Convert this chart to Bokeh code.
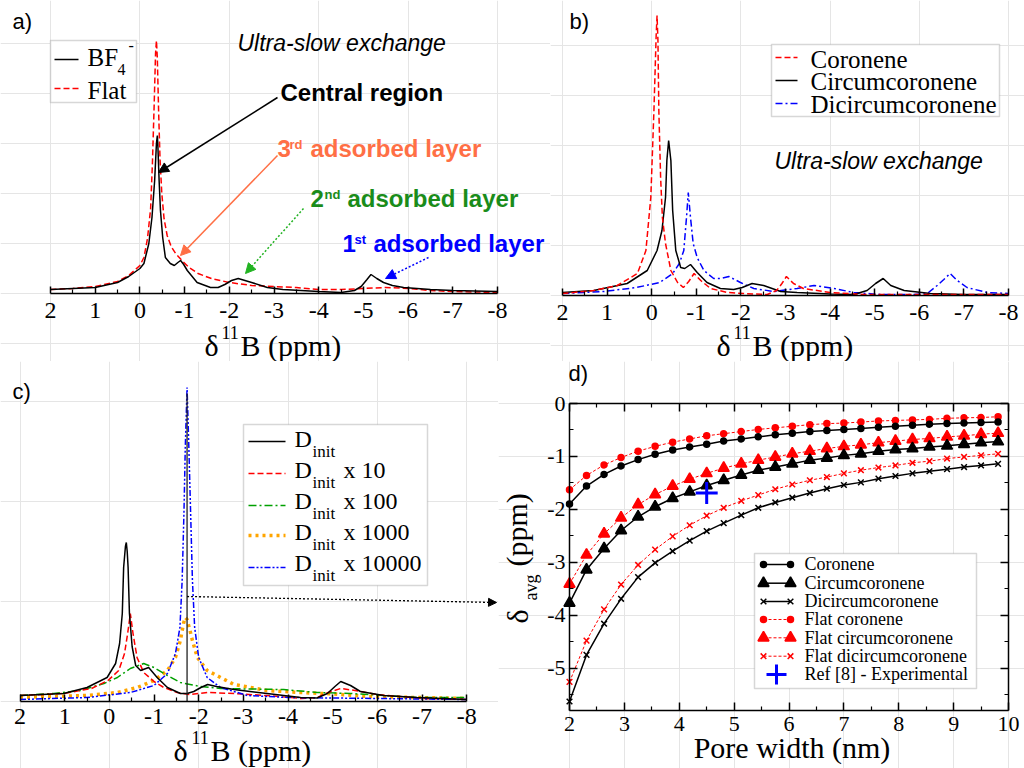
import math
from bokeh.plotting import figure
from bokeh.models import (Range1d, FixedTicker, Label, Arrow, NormalHead,
                          BoxAnnotation, LinearAxis, CustomJSTickFormatter)
from bokeh.layouts import row, column
from bokeh.embed import file_html
from bokeh.resources import INLINE

SERIF = "Liberation Serif"
SANS = "Liberation Sans"
RED, BLUE, BLACK = "#ff0000", "#0000ff", "#000000"
ORANGE, GREEN_C = "#ffa500", "#00a000"
CORAL, GREEN_T, GREEN_A = "#ff6f45", "#1a8c1a", "#22b322"

ROW_SPLIT = 361   # page y where the lower row of panels begins
COL_SPLIT = 498   # page x where panel d begins

# ---------------- data ----------------
ppm_ticks = [2, 1, 0, -1, -2, -3, -4, -5, -6, -7, -8]
ppm_minor = [1.5, 0.5, -0.5, -1.5, -2.5, -3.5, -4.5, -5.5, -6.5, -7.5]

# panel a (intensity, a.u.)
a_bf4_ppm = [2.0, 1.5, 1.0, 0.5, 0.25, 0.0, -0.09, -0.2, -0.27, -0.33, -0.37, -0.39, -0.40, -0.43,
             -0.46, -0.51, -0.57, -0.68, -0.77, -0.85, -0.91, -0.98, -1.06, -1.28, -1.58, -1.75,
             -1.9, -2.05, -2.2, -2.35, -2.5, -2.85, -3.2, -3.6, -4.0, -4.5, -4.8, -4.95, -5.08,
             -5.17, -5.3, -5.45, -5.65, -5.9, -6.5, -7.0, -8.0]
a_bf4_int = [4, 5, 6, 11, 17, 25, 30, 50, 76, 113, 150, 158, 150, 113, 83, 56, 36, 30, 28, 31, 33,
             29, 23, 11, 6, 6, 9, 13, 15, 13, 11, 6, 4, 3, 2, 1, 3, 7, 14, 19, 15, 11, 8, 6, 4, 3, 2]
a_flat_ppm = [2.0, 1.5, 1.0, 0.5, 0.25, 0.0, -0.09, -0.17, -0.24, -0.28, -0.32, -0.35, -0.37, -0.39,
              -0.42, -0.45, -0.49, -0.54, -0.61, -0.7, -0.8, -0.94, -1.1, -1.3, -1.6, -2.0, -2.5,
              -3.0, -3.5, -4.0, -4.5, -5.0, -5.5, -6.0, -6.5, -7.0, -7.5, -8.0]
a_flat_int = [4, 5, 7, 12, 18, 28, 36, 55, 85, 130, 190, 240, 253, 235, 180, 135, 100, 75, 58, 47,
              40, 33, 26, 20, 15, 11, 8, 7, 6, 4, 4, 5, 6, 5, 3, 2, 1.5, 1]

# panel b
b_cor_ppm = [2.0, 1.3, 0.77, 0.32, 0.13, 0.02, -0.05, -0.1, -0.12, -0.14, -0.16, -0.2, -0.24, -0.31,
             -0.43, -0.58, -0.71, -0.83, -0.95, -1.1, -1.32, -1.7, -2.06, -2.59, -2.8, -2.92,
             -3.02, -3.18, -3.4, -4.0, -4.75, -5.5, -6.25, -7.0, -8.0]
b_cor_int = [2, 5, 10, 22, 45, 98, 185, 260, 280, 255, 185, 118, 78, 52, 25, 13, 8, 14, 22, 15, 7,
             3, 2, 1, 5, 12, 19, 12, 7, 3, 1, 1, 1, 1, 1]
b_cir_ppm = [2.0, 1.3, 0.55, 0.1, -0.12, -0.23, -0.31, -0.34, -0.38, -0.43, -0.47, -0.54, -0.65,
             -0.74, -0.87, -1.02, -1.24, -1.54, -1.84, -2.03, -2.25, -2.51, -2.89, -3.26, -4.0,
             -4.53, -4.83, -5.02, -5.19, -5.36, -5.66, -6.25, -7.0, -8.0]
b_cir_int = [3, 5, 12, 25, 45, 65, 98, 135, 155, 135, 85, 45, 28, 27, 31, 23, 13, 7, 6, 8, 12, 10,
             4, 3, 1.5, 1, 5, 12, 17, 10, 5, 2, 1, 1]
b_dic_ppm = [2.0, 1.08, 0.34, -0.18, -0.47, -0.62, -0.72, -0.78, -0.82, -0.87, -0.93, -1.02, -1.17,
             -1.39, -1.55, -1.73, -1.99, -2.29, -2.74, -3.26, -3.64, -4.09, -4.53, -5.13, -5.88,
             -6.18, -6.4, -6.55, -6.69, -6.85, -7.07, -7.52, -8.0]
b_dic_int = [2, 4, 8, 13, 22, 32, 45, 78, 103, 78, 52, 38, 25, 17, 17, 19, 13, 7, 4, 7, 10, 7, 3,
             1, 1, 2, 10, 16, 22, 15, 8, 3, 2]

# panel c
c_d1_ppm = [2.0, 1.02, 0.5, 0.05, -0.14, -0.23, -0.29, -0.32, -0.36, -0.38, -0.40, -0.42, -0.45,
            -0.51, -0.59, -0.70, -0.88, -1.07, -1.3, -1.59, -1.74, -1.89, -2.05, -2.2, -2.4, -2.79,
            -3.53, -4.28, -4.65, -4.88, -5.05, -5.18, -5.4, -5.62, -6.14, -6.89, -8.0]
c_d1_int = [6, 8, 14, 24, 38, 58, 88, 134, 155, 159, 150, 134, 88, 55, 36, 31, 34, 24, 14, 8, 8, 10,
            14, 17, 15, 12, 8, 4, 3.5, 8, 15, 20, 16, 10, 6, 4, 2]
c_d10_ppm = [2.0, 1.02, 0.4, 0.03, -0.21, -0.34, -0.41, -0.47, -0.53, -0.62, -0.77, -1.0, -1.22,
             -1.52, -1.8, -2.2, -2.8, -3.5, -4.3, -4.65, -4.9, -5.18, -5.5, -6.0, -6.5, -7.0, -8.0]
c_d10_int = [6, 8, 13, 21, 31, 48, 68, 88, 68, 44, 29, 20, 14, 9, 7, 9, 8, 6, 3, 4, 9, 13, 11, 7,
             5, 3, 2]
c_d100_ppm = [2.0, 1.24, 0.65, 0.12, -0.18, -0.47, -0.77, -1.0, -1.3, -1.59, -2.04, -2.49, -3.16,
              -3.9, -4.65, -5.4, -6.89, -8.0]
c_d100_int = [6, 8, 11, 18, 24, 33, 38, 34, 26, 19, 15, 13, 12.5, 12, 9, 8, 4, 4]
c_d1000_ppm = [2.0, 0.5, -0.18, -0.63, -1.0, -1.3, -1.48, -1.59, -1.66, -1.70, -1.74, -1.80, -1.86,
               -1.97, -2.19, -2.49, -2.79, -3.53, -4.28, -5.03, -5.77, -8.0]
c_d1000_int = [4, 6, 9, 14, 21, 31, 44, 61, 78, 84, 82, 72, 61, 44, 31, 24, 17, 11, 9, 7.5, 5, 3]
c_d10000_ppm = [2.0, 0.5, -0.47, -1.0, -1.3, -1.48, -1.58, -1.63, -1.67, -1.70, -1.74, -1.78,
                -1.82, -1.86, -1.91, -2.0, -2.19, -2.49, -3.09, -4.0, -6.0, -8.0]
c_d10000_int = [2, 4, 9, 16, 28, 48, 74, 121, 188, 254, 314, 254, 188, 121, 74, 44, 24, 14, 6, 4,
                3, 2]
c_avg_ppm = [-1.74]
c_avg_top = [308]
c_arrow_height = 105

# panel d
d_width = [2.0, 2.31, 2.63, 2.94, 3.25, 3.56, 3.88, 4.19, 4.5, 4.81, 5.13, 5.44, 5.75, 6.06, 6.38,
           6.69, 7.0, 7.31, 7.63, 7.94, 8.25, 8.56, 8.88, 9.19, 9.5, 9.81]
d_cor = [-1.90, -1.56, -1.34, -1.18, -1.06, -0.96, -0.88, -0.82, -0.77, -0.71, -0.67, -0.63, -0.59,
         -0.56, -0.53, -0.51, -0.49, -0.47, -0.45, -0.43, -0.41, -0.39, -0.38, -0.37, -0.36, -0.35]
d_flat_cor = [-1.63, -1.36, -1.16, -1.02, -0.90, -0.81, -0.73, -0.67, -0.61, -0.57, -0.53, -0.49,
              -0.46, -0.43, -0.40, -0.38, -0.37, -0.35, -0.33, -0.32, -0.31, -0.30, -0.28, -0.27,
              -0.265, -0.25]
d_cir = [-3.77, -3.14, -2.74, -2.40, -2.14, -1.95, -1.79, -1.67, -1.55, -1.45, -1.35, -1.26, -1.20,
         -1.14, -1.07, -1.03, -0.98, -0.95, -0.90, -0.87, -0.85, -0.82, -0.80, -0.77, -0.74, -0.72]
d_flat_cir = [-3.41, -2.86, -2.46, -2.16, -1.91, -1.72, -1.56, -1.43, -1.32, -1.22, -1.14, -1.07,
              -1.01, -0.95, -0.90, -0.85, -0.81, -0.78, -0.74, -0.71, -0.68, -0.66, -0.63, -0.61,
              -0.58, -0.56]
d_dic = [-5.63, -4.75, -4.16, -3.69, -3.28, -3.01, -2.79, -2.59, -2.41, -2.26, -2.11, -1.97, -1.87,
         -1.78, -1.69, -1.61, -1.54, -1.49, -1.42, -1.37, -1.32, -1.28, -1.24, -1.20, -1.17, -1.14]
d_flat_dic = [-5.26, -4.48, -3.89, -3.42, -3.05, -2.76, -2.51, -2.30, -2.12, -1.97, -1.84, -1.73,
              -1.62, -1.53, -1.45, -1.39, -1.32, -1.26, -1.21, -1.17, -1.12, -1.09, -1.04, -1.01,
              -0.98, -0.95]
d_exp_x = [4.5]
d_exp_y = [-1.69]
d_xticks = [2, 3, 4, 5, 6, 7, 8, 9, 10]
d_xminor = [2.5, 3.5, 4.5, 5.5, 6.5, 7.5, 8.5, 9.5]
d_yticks = [0, -1, -2, -3, -4, -5]
d_yminor = [-0.5, -1.5, -2.5, -3.5, -4.5, -5.5]
d_xlim = (2, 10)
d_ylim = (-5.8, 0)


# ---------------- helpers ----------------
def text(p, X, Y, rx, rbase, s, size, font=SERIF, style="normal", color=BLACK, align="left"):
    """rx, rbase: anchor x and baseline y in page pixels."""
    p.add_layout(Label(x=X(rx), y=Y(rbase - 0.34 * size), text=s, text_font=font,
                       text_font_size=f"{size}px", text_font_style=style, text_color=color,
                       text_align=align, text_baseline="middle"))


def vtext(p, X, Y, rbase_x, rstart_y, s, size, font=SERIF):
    """Vertical text reading bottom-to-top; rbase_x is the baseline x in page pixels."""
    p.add_layout(Label(x=X(rbase_x - 0.34 * size), y=Y(rstart_y), text=s, text_font=font,
                       text_font_size=f"{size}px", text_color=BLACK, text_align="left",
                       text_baseline="middle", angle=math.pi / 2))


def arrow(p, x0, y0, x1, y1, color, dash="solid", width=1.5, head=10):
    p.add_layout(Arrow(x_start=x0, y_start=y0, x_end=x1, y_end=y1, line_color=color,
                       line_width=width, line_dash=dash,
                       end=NormalHead(size=head, fill_color=color, line_color=color)))


def box(p, l, r, t, b):
    p.add_layout(BoxAnnotation(left=l, right=r, top=t, bottom=b, fill_color="white",
                               fill_alpha=1.0, line_color="#7a7a7a", line_width=1.5,
                               level="underlay"))


def quiet_axis(a, ticks, minor, bounds, loc, tick_in=7, minor_in=4):
    a.ticker = FixedTicker(ticks=ticks, minor_ticks=minor)
    a.bounds = bounds
    a.fixed_location = loc
    a.axis_line_color = BLACK
    a.axis_line_width = 1.5
    a.major_tick_line_color = BLACK
    a.minor_tick_line_color = BLACK
    a.major_tick_line_width = 1.5
    a.minor_tick_line_width = 1.2
    a.major_tick_in = tick_in
    a.major_tick_out = 0
    a.minor_tick_in = minor_in
    a.minor_tick_out = 0
    a.major_label_text_font_size = "0px"
    a.major_label_text_alpha = 0
    a.major_label_standoff = 0
    a.formatter = CustomJSTickFormatter(code="return '';")


def bare_fig(w, h, xr, yr):
    p = figure(width=w, height=h, x_range=Range1d(*xr), y_range=Range1d(*yr),
               output_backend="svg", toolbar_location=None,
               x_axis_location=None, y_axis_location=None,
               min_border_left=0, min_border_right=0, min_border_top=0, min_border_bottom=0)
    p.outline_line_color = None
    p.background_fill_color = "white"
    p.border_fill_color = "white"
    return p


def spectrum_fig(X, Y, x0, x1, y0, y1, tick_base):
    p = bare_fig(x1 - x0, y1 - y0, (X(x0), X(x1)), (Y(y1), Y(y0)))
    ax = LinearAxis()
    quiet_axis(ax, ppm_ticks, ppm_minor, (-8, 2), 0)
    p.add_layout(ax, "below")
    for t in ppm_ticks:
        p.add_layout(Label(x=t, y=Y(tick_base - 0.34 * 24), text=str(t), text_font=SERIF,
                           text_font_size="24px", text_color=BLACK, text_align="center",
                           text_baseline="middle"))
    return p


def delta_label(p, X, Y, x_delta, x_sup, x_b, base, sup_base):
    text(p, X, Y, x_delta, base, "δ", 30)
    text(p, X, Y, x_sup, sup_base, "11", 18)
    text(p, X, Y, x_b, base, "B (ppm)", 30)


# ---------------- panel a ----------------
def ax_(rx): return 2 - (rx - 50) / 44.7
def ay_(ry): return 293 - ry

pa = spectrum_fig(ax_, ay_, 0, 550, 0, ROW_SPLIT, 318)
pa.line(a_flat_ppm, a_flat_int, line_color=RED, line_width=1.5, line_dash="6 3")
pa.line(a_bf4_ppm, a_bf4_int, line_color=BLACK, line_width=1.5)

box(pa, ax_(50), ax_(136), ay_(40), ay_(102))
pa.line([ax_(54), ax_(78)], [ay_(59), ay_(59)], line_color=BLACK, line_width=1.5)
pa.line([ax_(54), ax_(78)], [ay_(88), ay_(88)], line_color=RED, line_width=1.5, line_dash="6 3")
text(pa, ax_, ay_, 87, 65, "BF", 25)
text(pa, ax_, ay_, 117, 74, "4", 16)
text(pa, ax_, ay_, 128, 50, "-", 16)
text(pa, ax_, ay_, 87, 98, "Flat", 25)

text(pa, ax_, ay_, 12, 28, "a)", 22, font=SANS)
text(pa, ax_, ay_, 237, 50.5, "Ultra-slow exchange", 23, font=SANS, style="italic")
text(pa, ax_, ay_, 280, 100, "Central region", 24, font=SANS, style="bold")
text(pa, ax_, ay_, 277, 156, "3", 24, font=SANS, style="bold", color=CORAL)
text(pa, ax_, ay_, 289, 148, "rd", 13, font=SANS, style="bold", color=CORAL)
text(pa, ax_, ay_, 310, 156, "adsorbed layer", 24, font=SANS, style="bold", color=CORAL)
text(pa, ax_, ay_, 310, 206.5, "2", 24, font=SANS, style="bold", color=GREEN_T)
text(pa, ax_, ay_, 324, 198.5, "nd", 13, font=SANS, style="bold", color=GREEN_T)
text(pa, ax_, ay_, 347, 206.5, "adsorbed layer", 24, font=SANS, style="bold", color=GREEN_T)
text(pa, ax_, ay_, 342, 251.5, "1", 24, font=SANS, style="bold", color=BLUE)
text(pa, ax_, ay_, 354, 243.5, "st", 13, font=SANS, style="bold", color=BLUE)
text(pa, ax_, ay_, 373, 251.5, "adsorbed layer", 24, font=SANS, style="bold", color=BLUE)

arrow(pa, ax_(277), ay_(97), ax_(158), ay_(172), BLACK)
arrow(pa, ax_(277), ay_(155), ax_(180), ay_(255), CORAL)
arrow(pa, ax_(303), ay_(208), ax_(245), ay_(273), GREEN_A, dash="2 2")
arrow(pa, ax_(428), ay_(257), ax_(385), ay_(278), BLUE, dash="2 2")

delta_label(pa, ax_, ay_, 204, 221, 240, 355, 338)

# ---------------- panel b ----------------
def bx_(rx): return 2 - (rx - 562) / 44.6
def by_(ry): return 295 - ry

pb = spectrum_fig(bx_, by_, 550, 1024, 0, ROW_SPLIT, 320)
pb.line(b_dic_ppm, b_dic_int, line_color=BLUE, line_width=1.5, line_dash="7 3 2 3")
pb.line(b_cir_ppm, b_cir_int, line_color=BLACK, line_width=1.5)
pb.line(b_cor_ppm, b_cor_int, line_color=RED, line_width=1.5, line_dash="6 3")

box(pb, bx_(771), bx_(999), by_(44), by_(116))
pb.line([bx_(775), bx_(797)], [by_(57), by_(57)], line_color=RED, line_width=1.5, line_dash="6 3")
pb.line([bx_(775), bx_(797)], [by_(80), by_(80)], line_color=BLACK, line_width=1.5)
pb.line([bx_(775), bx_(797)], [by_(103), by_(103)], line_color=BLUE, line_width=1.5,
        line_dash="7 3 2 3")
text(pb, bx_, by_, 810, 67, "Coronene", 25)
text(pb, bx_, by_, 810, 89.5, "Circumcoronene", 25)
text(pb, bx_, by_, 810, 112, "Dicircumcoronene", 25)

text(pb, bx_, by_, 569, 28, "b)", 22, font=SANS)
text(pb, bx_, by_, 774, 168, "Ultra-slow exchange", 23, font=SANS, style="italic")
delta_label(pb, bx_, by_, 716, 733, 752, 355, 338)

# ---------------- panel c ----------------
def cx_(rx): return 2 - (rx - 19.5) / 44.67
def cy_(ry): return 701 - ry

pc = spectrum_fig(cx_, cy_, 0, COL_SPLIT, ROW_SPLIT, 768, 724)
pc.line(c_d1000_ppm, c_d1000_int, line_color=ORANGE, line_width=3.5, line_dash="3 4")
pc.line(c_d100_ppm, c_d100_int, line_color=GREEN_C, line_width=1.5, line_dash="8 3 2 3")
pc.line(c_d10_ppm, c_d10_int, line_color=RED, line_width=1.5, line_dash="6 3")
pc.line(c_d10000_ppm, c_d10000_int, line_color=BLUE, line_width=1.5, line_dash="6 2 2 2 2 2")
pc.line(c_d1_ppm, c_d1_int, line_color=BLACK, line_width=1.5)
pc.segment(x0=c_avg_ppm, y0=[0], x1=c_avg_ppm, y1=c_avg_top, line_color="#222222", line_width=1.3)
arrow(pc, c_avg_ppm[0], c_arrow_height, cx_(496), cy_(602), BLACK, dash="2 2", width=1.3, head=8)

box(pc, cx_(243), cx_(427), cy_(424), cy_(585))
leg_c = [("solid", BLACK, 1.5, 441, 447, ""), ("6 3", RED, 1.5, 473, 478, "x 10"),
         ("8 3 2 3", GREEN_C, 1.5, 505, 509, "x 100"), ("3 4", ORANGE, 3.5, 535, 540, "x 1000"),
         ("6 2 2 2 2 2", BLUE, 1.5, 567, 571, "x 10000")]
for dash, col, lw, ly, tb, suffix in leg_c:
    pc.line([cx_(248), cx_(285)], [cy_(ly), cy_(ly)], line_color=col, line_width=lw, line_dash=dash)
    text(pc, cx_, cy_, 294, tb, "D", 24)
    text(pc, cx_, cy_, 312, tb + 10, "init", 17)
    if suffix:
        text(pc, cx_, cy_, 343, tb, suffix, 24)

text(pc, cx_, cy_, 12, 398, "c)", 22, font=SANS)
delta_label(pc, cx_, cy_, 173, 191, 210, 760, 743)

# ---------------- panel d ----------------
def dx_(rx): return 2 + (rx - 569) * 8 / 439
def dy_(ry): return -5.8 * (ry - 403) / 307

pd = bare_fig(1024 - COL_SPLIT, 768 - ROW_SPLIT, (dx_(COL_SPLIT), dx_(1024)), (dy_(768), dy_(ROW_SPLIT)))
ax_b = LinearAxis(); quiet_axis(ax_b, d_xticks, d_xminor, d_xlim, d_ylim[0], 8, 4)
ax_t = LinearAxis(); quiet_axis(ax_t, d_xticks, d_xminor, d_xlim, d_ylim[1], 8, 4)
ax_l = LinearAxis(); quiet_axis(ax_l, d_yticks, d_yminor, d_ylim, d_xlim[0], 8, 4)
ax_r = LinearAxis(); quiet_axis(ax_r, d_yticks, d_yminor, d_ylim, d_xlim[1], 8, 4)
pd.add_layout(ax_b, "below")
pd.add_layout(ax_t, "above")
pd.add_layout(ax_l, "left")
pd.add_layout(ax_r, "right")

series = [
    (d_flat_cor, RED, "circle", 6, "3 2", 1.0),
    (d_flat_cir, RED, "triangle", 11, "3 2", 1.0),
    (d_flat_dic, RED, "x", 8, "3 2", 1.0),
    (d_cor, BLACK, "circle", 6, "solid", 1.5),
    (d_cir, BLACK, "triangle", 11, "solid", 1.5),
    (d_dic, BLACK, "x", 8, "solid", 1.5),
]
for ys, col, mk, sz, dash, lw in series:
    pd.line(d_width, ys, line_color=col, line_width=lw, line_dash=dash)
    pd.scatter(d_width, ys, marker=mk, size=sz, fill_color=col, line_color=col, line_width=1.5)
pd.scatter(d_exp_x, d_exp_y, marker="cross", size=22, line_color=BLUE, line_width=3)

for t in d_xticks:
    pd.add_layout(Label(x=t, y=dy_(731 - 0.34 * 22), text=str(t), text_font=SERIF,
                        text_font_size="22px", text_color=BLACK, text_align="center",
                        text_baseline="middle"))
for t in d_yticks:
    pd.add_layout(Label(x=dx_(565), y=t, text=str(t), text_font=SERIF,
                        text_font_size="22px", text_color=BLACK, text_align="right",
                        text_baseline="middle"))

box(pd, dx_(754), dx_(976), dy_(553), dy_(688))
leg_d = [("Coronene", BLACK, "circle", 6, "solid", 1.5, 564),
         ("Circumcoronene", BLACK, "triangle", 11, "solid", 1.5, 582.7),
         ("Dicircumcoronene", BLACK, "x", 8, "solid", 1.5, 601),
         ("Flat coronene", RED, "circle", 6, "3 2", 1.0, 619),
         ("Flat circumcoronene", RED, "triangle", 11, "3 2", 1.0, 637.3),
         ("Flat dicircumcoronene", RED, "x", 8, "3 2", 1.0, 655.7)]
for lab, col, mk, sz, dash, lw, ly in leg_d:
    pd.line([dx_(763), dx_(790)], [dy_(ly), dy_(ly)], line_color=col, line_width=lw, line_dash=dash)
    pd.scatter([dx_(763), dx_(790)], [dy_(ly), dy_(ly)], marker=mk, size=sz, fill_color=col,
               line_color=col, line_width=1.5)
    text(pd, dx_, dy_, 804, ly + 6, lab, 18)
pd.scatter([dx_(776)], [dy_(674)], marker="cross", size=20, line_color=BLUE, line_width=3)
text(pd, dx_, dy_, 804, 680, "Ref [8] - Experimental", 18)

text(pd, dx_, dy_, 568, 380, "d)", 22, font=SANS)
text(pd, dx_, dy_, 791.5, 757, "Pore width (nm)", 30, align="center")
vtext(pd, dx_, dy_, 527, 623, "δ", 30)
vtext(pd, dx_, dy_, 537, 600, "avg", 18)
vtext(pd, dx_, dy_, 526, 566, "(ppm)", 30)

layout = column(row(pa, pb), row(pc, pd))
open("out.html", "w").write(file_html(layout, INLINE))
